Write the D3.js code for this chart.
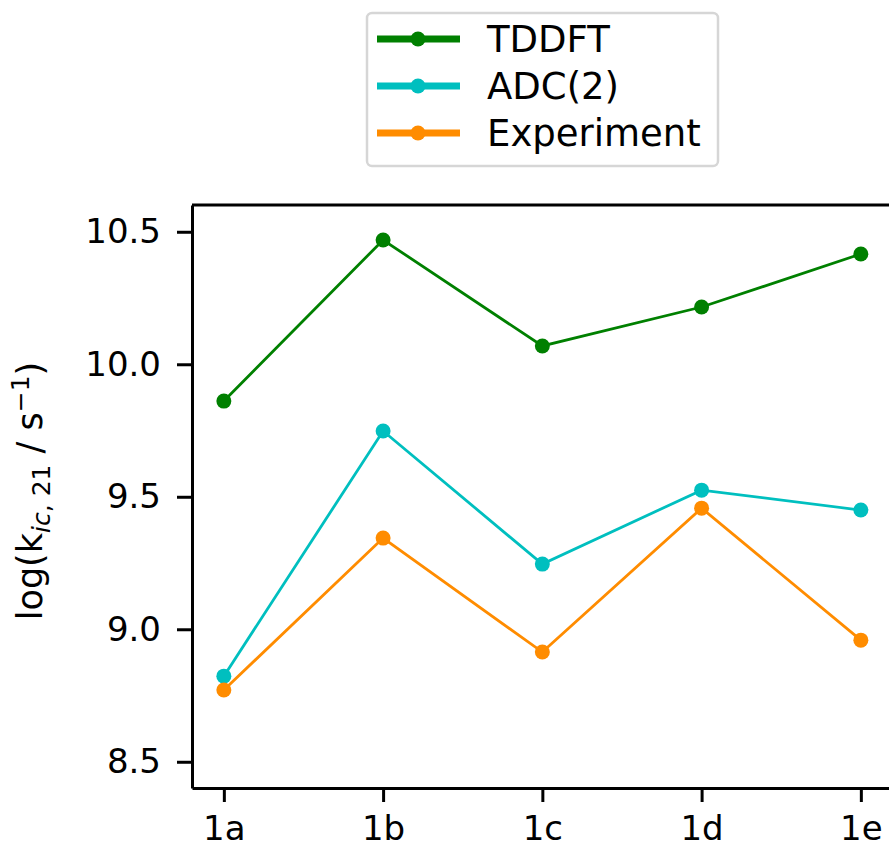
<!DOCTYPE html>
<html>
<head>
<meta charset="utf-8">
<script src="https://cdn.jsdelivr.net/npm/d3@7"></script>
<style>
  body { margin: 0; background: #fff; }
  text { font-family: "DejaVu Sans", sans-serif; }
</style>
</head>
<body>
<div id="chart"></div>
<script>
// data
const molecules = ['1a', '1b', '1c', '1d', '1e'];
const tddft = [9.861, 10.469, 10.069, 10.216, 10.416];
const adc2 = [8.823, 9.748, 9.246, 9.525, 9.450];
const experiment = [8.771, 9.344, 8.914, 9.457, 8.959];
const yTicks = [8.5, 9.0, 9.5, 10.0, 10.5];
const seriesNames = ['TDDFT', 'ADC(2)', 'Experiment'];
const seriesColors = ['#008000', '#00bfbf', '#ff8c00'];

const series = [tddft, adc2, experiment].map((vals, i) => ({
  name: seriesNames[i], color: seriesColors[i], values: vals
}));

const W = 889, H = 843;
const plot = {left: 192, top: 205, bottom: 788, step: 159.25};

const svg = d3.select('#chart').append('svg')
  .attr('width', W).attr('height', H);

// scales - index based x with matplotlib style margins
const x = d3.scaleLinear().domain([-0.2, 4.2])
  .range([plot.left, plot.left + 4.4 * plot.step]);
const y = d3.scaleLinear().domain([8.401, 10.601])
  .range([plot.bottom, plot.top]);

// lines + markers
const line = d3.line().x((d, i) => x(i)).y(d => y(d));
series.forEach(s => {
  svg.append('path').datum(s.values)
    .attr('d', line)
    .attr('fill', 'none')
    .attr('stroke', s.color)
    .attr('stroke-width', 2.8);
  svg.selectAll(null).data(s.values).enter()
    .append('circle')
    .attr('cx', (d, i) => x(i))
    .attr('cy', d => y(d))
    .attr('r', 7.5)
    .attr('fill', s.color);
});

// axes
const yAxis = d3.axisLeft(y).tickValues(yTicks).tickFormat(d3.format('.1f'))
  .tickSize(15).tickPadding(16).tickSizeOuter(0);
const gy = svg.append('g').attr('transform', `translate(${plot.left},0)`).call(yAxis);

const xAxis = d3.axisBottom(x).tickValues(d3.range(molecules.length))
  .tickFormat(i => molecules[i]).tickSize(14).tickPadding(14).tickSizeOuter(0);
const gx = svg.append('g').attr('transform', `translate(0,${plot.bottom})`).call(xAxis);

[gx, gy].forEach(g => {
  g.select('.domain').attr('stroke', '#000').attr('stroke-width', 3);
  g.selectAll('.tick line').attr('stroke', '#000').attr('stroke-width', 3);
  g.selectAll('.tick text').attr('fill', '#000')
    .style('font-size', '34px').style('font-family', '"DejaVu Sans", sans-serif');
});

// top spine
svg.append('line')
  .attr('x1', plot.left).attr('x2', W + 5)
  .attr('y1', plot.top).attr('y2', plot.top)
  .attr('stroke', '#000').attr('stroke-width', 3);

// y label
const yl = svg.append('text')
  .attr('transform', 'translate(42,491) rotate(-90)')
  .attr('text-anchor', 'middle')
  .style('font-size', '35px');
yl.append('tspan').text('log(k');
yl.append('tspan').text('ic').attr('dy', 8).style('font-size', '25px').style('font-style', 'italic');
yl.append('tspan').text(', 21').style('font-size', '25px');
yl.append('tspan').text(' / s').attr('dy', -8);
yl.append('tspan').text('\u22121').attr('dy', -13).style('font-size', '25px');
yl.append('tspan').text(')').attr('dy', 13);

// legend
const legend = svg.append('g');
legend.append('rect')
  .attr('x', 367).attr('y', 13).attr('width', 351).attr('height', 153)
  .attr('rx', 5).attr('fill', '#fff')
  .attr('stroke', '#d6d6d6').attr('stroke-width', 2.5);
const rowY = [39, 86, 133];
series.forEach((s, i) => {
  const g = legend.append('g').attr('transform', `translate(0,${rowY[i]})`);
  g.append('line').attr('x1', 377).attr('x2', 460)
    .attr('stroke', s.color).attr('stroke-width', 7);
  g.append('circle').attr('cx', 418).attr('r', 7.5).attr('fill', s.color);
  g.append('text').attr('x', 487).attr('dy', '0.36em')
    .style('font-size', '37px').text(s.name);
});
</script>
</body>
</html>
